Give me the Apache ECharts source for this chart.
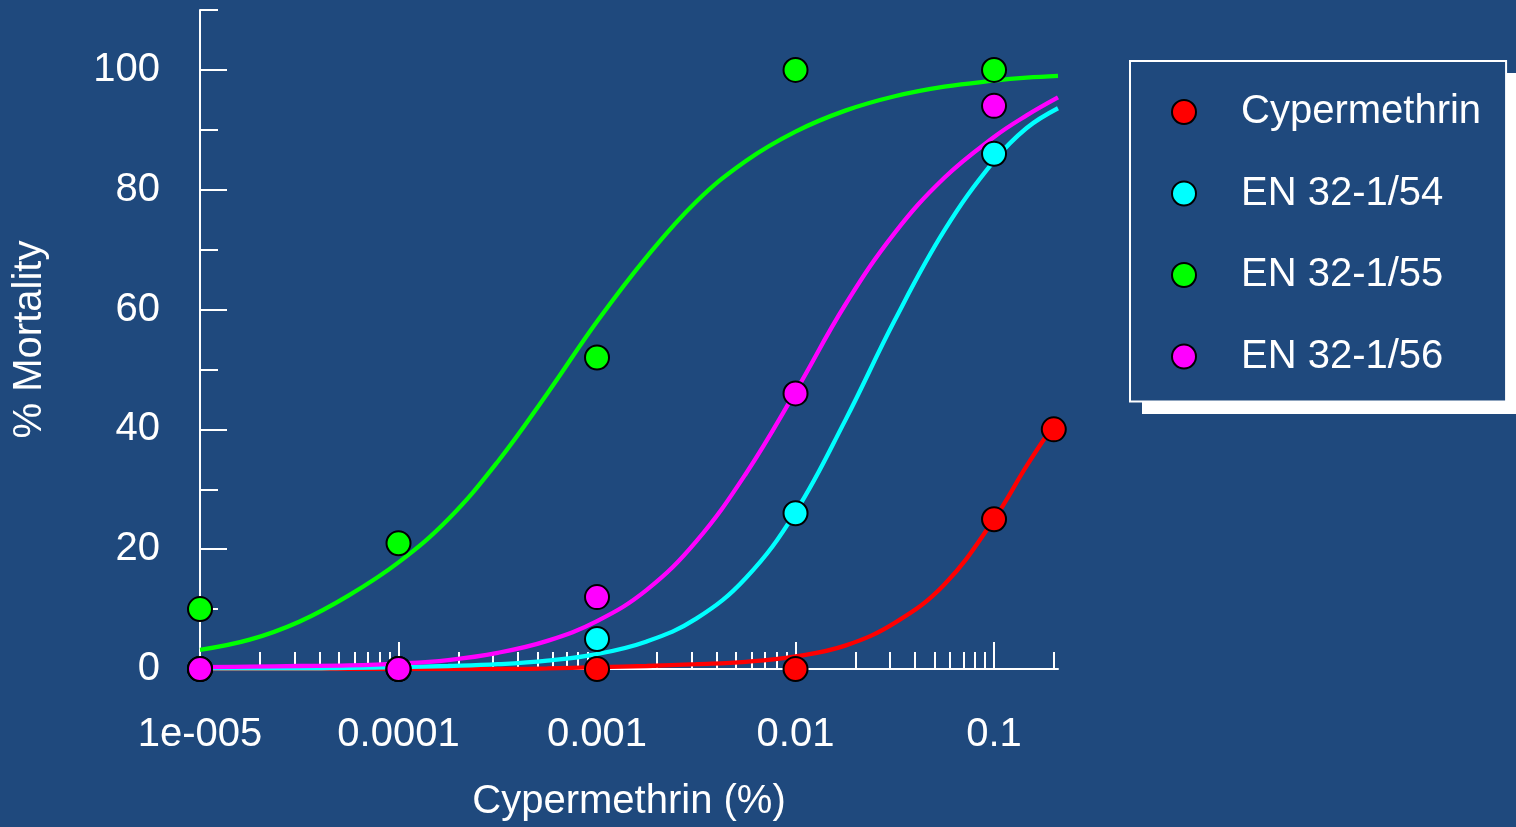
<!DOCTYPE html>
<html>
<head>
<meta charset="utf-8">
<script src="https://cdn.jsdelivr.net/npm/echarts@6/dist/echarts.min.js"></script>
<style>
html,body{margin:0;padding:0;background:#1f497d;}
#chart{width:1516px;height:827px;}
</style>
</head>
<body>
<div id="chart"></div>
<script>
// ---- data ----
const seriesNames = ['Cypermethrin', 'EN 32-1/54', 'EN 32-1/55', 'EN 32-1/56'];
const seriesColors = ['#ff0000', '#00ffff', '#00ff00', '#ff00ff'];

// measured points (concentration %, % mortality)
const redX = [1e-5, 1e-4, 0.001, 0.01, 0.1, 0.2];
const redY = [0, 0, 0, 0, 25, 40];
const cyanX = [1e-5, 1e-4, 0.001, 0.01, 0.1];
const cyanY = [0, 0, 5, 26, 86];
const greenX = [1e-5, 1e-4, 0.001, 0.01, 0.1];
const greenY = [10, 21, 52, 100, 100];
const magentaX = [1e-5, 1e-4, 0.001, 0.01, 0.1];
const magentaY = [0, 0, 12, 46, 94];

// fitted curves at these concentrations
const curveX = [1e-5, 1.78e-5, 3.16e-5, 5.62e-5, 1e-4, 1.78e-4, 3.16e-4, 5.62e-4, 1e-3,
                1.78e-3, 3.16e-3, 5.62e-3, 0.01, 0.0178, 0.0316, 0.0562, 0.1, 0.146, 0.21];
const redCurve = [0, 0, 0, 0, 0, 0, 0, 0.1, 0.3, 0.5, 0.8, 1.2, 2.1, 3.9, 7.7, 14.1, 25.0, 33.9, 41.8];
const cyanCurve = [0.1, 0.1, 0.1, 0.2, 0.3, 0.5, 0.8, 1.4, 2.5, 4.6, 8.4, 15.2, 26.2, 41.5, 58.2, 73.2, 84.8, 90.3, 93.6];
const greenCurve = [3.2, 4.9, 7.9, 12.3, 17.8, 25.0, 34.6, 46.0, 58.0, 68.8, 78.0, 84.8, 89.7, 93.2, 95.6, 97.2, 98.2, 98.7, 99.0];
const magentaCurve = [0.3, 0.4, 0.5, 0.6, 0.9, 1.5, 2.7, 4.7, 8.0, 13.2, 21.3, 32.6, 46.3, 60.8, 72.8, 82.0, 88.8, 92.4, 95.4];

// axis ticks and labels
const xMajorTicks = [1e-5, 1e-4, 0.001, 0.01, 0.1];
const xTickLabels = ['1e-005', '0.0001', '0.001', '0.01', '0.1'];
const xMinorTicks = [2e-5, 3e-5, 4e-5, 5e-5, 6e-5, 7e-5, 8e-5, 9e-5,
                     2e-4, 3e-4, 4e-4, 5e-4, 6e-4, 7e-4, 8e-4, 9e-4,
                     0.002, 0.003, 0.004, 0.005, 0.006, 0.007, 0.008, 0.009,
                     0.02, 0.03, 0.04, 0.05, 0.06, 0.07, 0.08, 0.09, 0.2];
const yMajorTicks = [0, 20, 40, 60, 80, 100];
const yMinorTicks = [10, 30, 50, 70, 90, 110];

// ---- chart ----
const pts = [[redX, redY], [cyanX, cyanY], [greenX, greenY], [magentaX, magentaY]];
const curves = [redCurve, cyanCurve, greenCurve, magentaCurve];
const zip = (xs, ys) => xs.map((x, i) => [x, ys[i]]);

const BG = '#1f497d';
const WHITE = '#ffffff';
const FONT = 'Liberation Sans, Arial, sans-serif';

const series = [];
curves.forEach((c, i) => {
  series.push({
    name: seriesNames[i] + ' fit',
    type: 'line',
    data: zip(curveX, c),
    smooth: 0.4,
    showSymbol: false,
    symbol: 'none',
    lineStyle: { color: seriesColors[i], width: 4.3 },
    z: 2,
    silent: true
  });
});
pts.forEach((p, i) => {
  series.push({
    name: seriesNames[i],
    type: 'scatter',
    data: zip(p[0], p[1]),
    symbol: 'circle',
    symbolSize: 24,
    itemStyle: { color: seriesColors[i], borderColor: '#000', borderWidth: 2, opacity: 1 },
    z: 3
  });
});

const xLabelFmt = (v) => {
  const i = xMajorTicks.findIndex(t => Math.abs(Math.log10(t) - Math.log10(v)) < 1e-6);
  return i >= 0 ? xTickLabels[i] : '';
};

const option = {
  backgroundColor: BG,
  animation: false,
  textStyle: { fontFamily: FONT },
  grid: { left: 200, right: 458, top: 10, bottom: 156, containLabel: false },
  xAxis: [
    {
      type: 'log', logBase: 10, min: 1e-5, max: 0.21, position: 'bottom',
      name: 'Cypermethrin (%)', nameLocation: 'middle', nameGap: 113,
      nameTextStyle: { color: WHITE, fontSize: 40, fontFamily: FONT },
      axisLine: { show: true, onZero: false, lineStyle: { color: WHITE, width: 2 } },
      axisTick: { show: true, inside: true, length: 27, customValues: xMajorTicks, lineStyle: { color: WHITE, width: 2 } },
      axisLabel: { color: WHITE, fontSize: 40, fontFamily: FONT, margin: 46, customValues: xMajorTicks, formatter: xLabelFmt },
      splitLine: { show: false },
      minorTick: { show: false }
    },
    {
      type: 'log', logBase: 10, min: 1e-5, max: 0.21, position: 'bottom', offset: 0,
      axisLine: { show: false, onZero: false },
      axisTick: { show: true, inside: true, length: 17, customValues: xMinorTicks, lineStyle: { color: WHITE, width: 2 } },
      axisLabel: { show: false },
      splitLine: { show: false }
    }
  ],
  yAxis: [
    {
      type: 'value', min: 0, max: 110, position: 'left',
      name: '% Mortality', nameLocation: 'middle', nameGap: 150, nameRotate: 90,
      nameTextStyle: { color: WHITE, fontSize: 40, fontFamily: FONT },
      axisLine: { show: true, onZero: false, lineStyle: { color: WHITE, width: 2 } },
      axisTick: { show: true, inside: true, length: 27, customValues: yMajorTicks, lineStyle: { color: WHITE, width: 2 } },
      axisLabel: { color: WHITE, fontSize: 40, fontFamily: FONT, margin: 40, customValues: yMajorTicks },
      splitLine: { show: false }
    },
    {
      type: 'value', min: 0, max: 110, position: 'left', offset: 0,
      axisLine: { show: false, onZero: false },
      axisTick: { show: true, inside: true, length: 18, customValues: yMinorTicks, lineStyle: { color: WHITE, width: 2 } },
      axisLabel: { show: false },
      splitLine: { show: false }
    }
  ],
  legend: {
    data: seriesNames.map(n => ({ name: n, icon: 'circle' })),
    orient: 'vertical',
    left: 1130, top: 61,
    padding: [31, 25, 25, 41],
    itemWidth: 104, itemHeight: 24, itemGap: 41.5,
    backgroundColor: BG, borderColor: WHITE, borderWidth: 2,
    textStyle: { color: WHITE, fontSize: 40, fontFamily: FONT },
    itemStyle: { borderColor: '#000', borderWidth: 2 },
    selectedMode: false
  },
  graphic: [
    { type: 'rect', left: 1142, top: 73, shape: { width: 380, height: 341 }, style: { fill: WHITE }, z: 0, silent: true }
  ],
  series: series
};

const chart = echarts.init(document.getElementById('chart'), null, { renderer: 'canvas' });
chart.setOption(option);
</script>
</body>
</html>
